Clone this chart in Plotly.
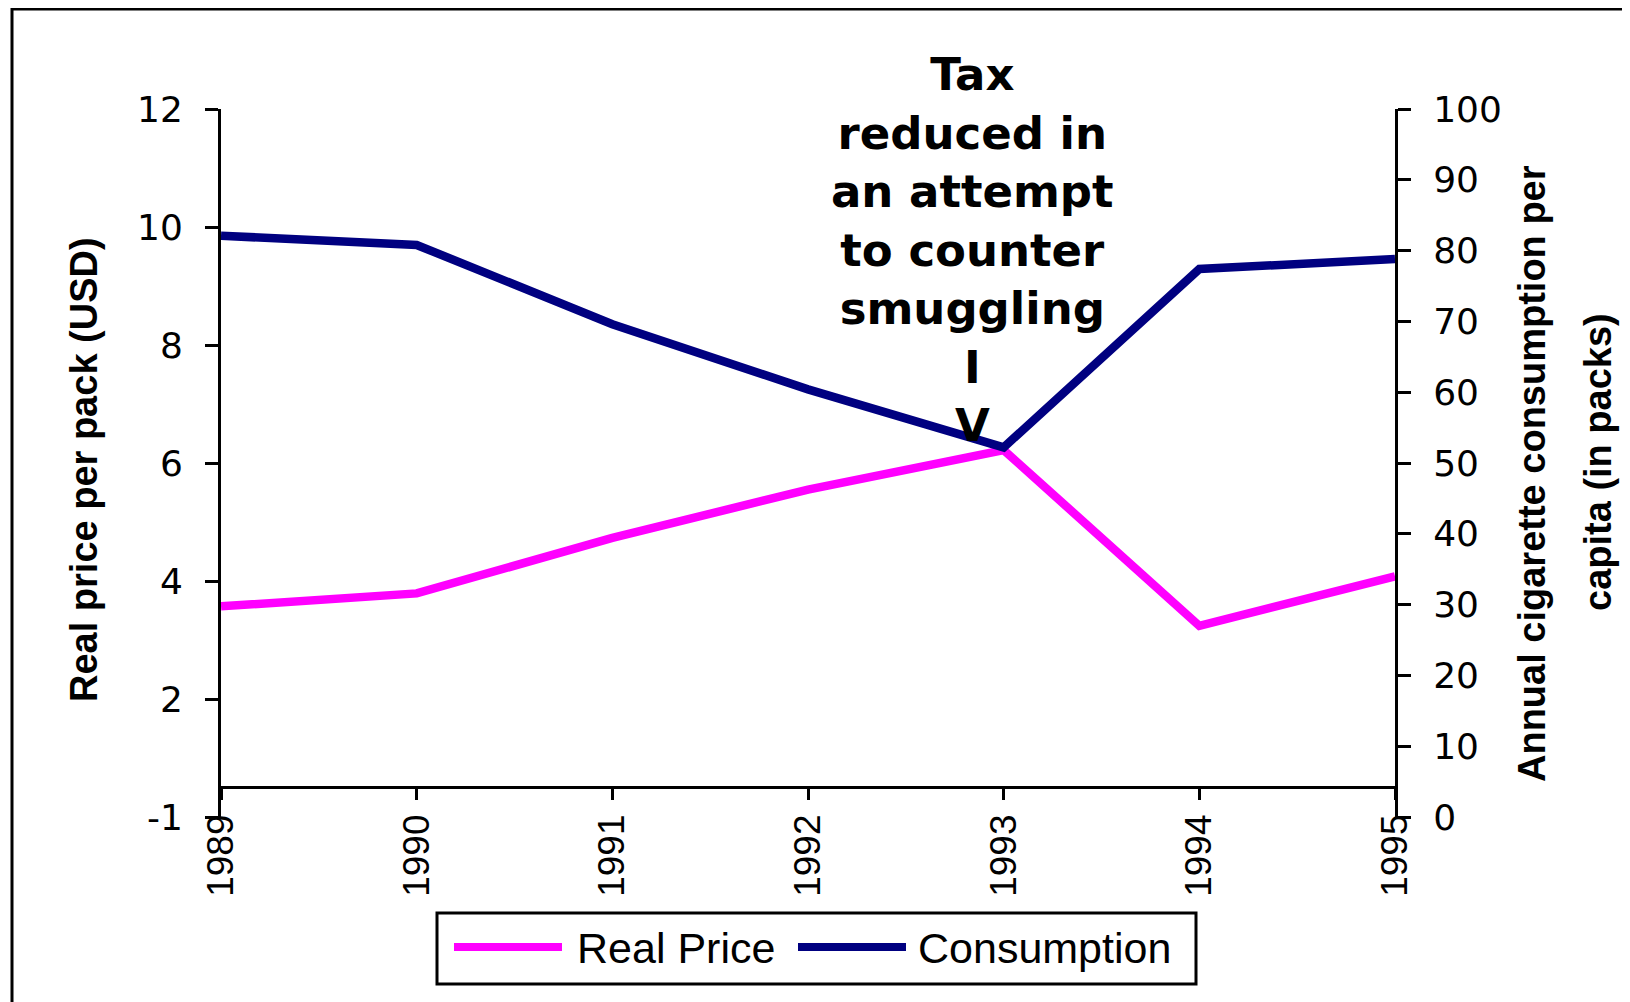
import plotly.graph_objects as go

years = [1989, 1990, 1991, 1992, 1993, 1994, 1995]
real_price = [3.57, 3.79, 4.73, 5.55, 6.22, 3.24, 4.08]
consumption = [82.1, 80.8, 69.6, 60.4, 52.2, 77.4, 78.8]

left_tickvals = [0, 2, 4, 6, 8, 10, 12]
left_ticktext = ["-1", "2", "4", "6", "8", "10", "12"]
right_tickvals = [0, 10, 20, 30, 40, 50, 60, 70, 80, 90, 100]
right_ticktext = [str(v) for v in right_tickvals]

MAGENTA = "#FF00FF"
NAVY = "#000080"

OFF = 8  # page body margin offset in the screenshot
W, H = 1630, 1002
L, R, T, B = 213, 243, 101, 193
PW, PH = W - L - R, H - T - B


def px(xs):
    return (xs - OFF - L) / PW


def py(ys):
    return (H - B - (ys - OFF)) / PH


fig = go.Figure()
fig.add_trace(go.Scatter(x=years, y=real_price, name="Real Price", mode="lines",
                         line=dict(color=MAGENTA, width=8.5), yaxis="y"))
fig.add_trace(go.Scatter(x=years, y=consumption, name="Consumption", mode="lines",
                         line=dict(color=NAVY, width=8.5), yaxis="y2"))

tick_font = dict(family="DejaVu Sans", size=36, color="black")

fig.update_layout(
    width=W, height=H, autosize=False,
    margin=dict(l=L, r=R, t=T, b=B),
    paper_bgcolor="white", plot_bgcolor="white",
    showlegend=False,
    xaxis=dict(range=[1989, 1995], tickmode="array", tickvals=years,
               ticktext=[str(y) for y in years], tickangle=-90,
               ticks="outside", ticklen=11, tickwidth=3, tickcolor="black",
               showline=True, linecolor="black", linewidth=3,
               showgrid=False, zeroline=False, anchor="free",
               position=(817 - 786.7) / PH,
               tickfont=dict(family="Liberation Sans Narrow, Liberation Sans", size=37, color="black"),
               ticklabelstandoff=0),
    yaxis=dict(range=[0, 12], tickmode="array", tickvals=left_tickvals, ticktext=left_ticktext,
               ticks="outside", ticklen=13, tickwidth=3, tickcolor="black",
               showline=True, linecolor="black", linewidth=3,
               showgrid=False, zeroline=False, tickfont=tick_font,
               ticklabelstandoff=15),
    yaxis2=dict(range=[0, 100], tickmode="array", tickvals=right_tickvals, ticktext=right_ticktext,
                overlaying="y", side="right", anchor="x",
                ticks="outside", ticklen=13, tickwidth=3, tickcolor="black",
                showline=True, linecolor="black", linewidth=3,
                showgrid=False, zeroline=False, tickfont=tick_font,
                ticklabelstandoff=15),
)

title_font = dict(family="Liberation Sans, Arial", size=38, color="black")
annotations = [
    dict(text="<b>Real price per pack (USD)</b>", xref="paper", yref="paper",
         x=px(84), y=py(470), xanchor="center", yanchor="middle", textangle=-90,
         showarrow=False, font=title_font),
    dict(text="<b>Annual cigarette consumption per</b>", xref="paper", yref="paper",
         x=px(1532), y=py(474), xanchor="center", yanchor="middle", textangle=-90,
         showarrow=False, font=title_font),
    dict(text="<b>capita (in packs)</b>", xref="paper", yref="paper",
         x=px(1598), y=py(462), xanchor="center", yanchor="middle", textangle=-90,
         showarrow=False, font=title_font),
    dict(text="<b>Tax<br>reduced in<br>an attempt<br>to counter<br>smuggling<br>I<br>V</b>",
         xref="paper", yref="paper", x=px(972), y=py(46), xanchor="center", yanchor="top",
         align="center", showarrow=False,
         font=dict(family="DejaVu Sans", size=45, color="black")),
    # legend texts
    dict(text="Real Price", xref="paper", yref="paper", x=px(575), y=py(948),
         xanchor="left", yanchor="middle", showarrow=False,
         font=dict(family="Liberation Sans, Arial", size=43, color="black")),
    dict(text="Consumption", xref="paper", yref="paper", x=px(916), y=py(948),
         xanchor="left", yanchor="middle", showarrow=False,
         font=dict(family="Liberation Sans, Arial", size=43, color="black")),
]
fig.update_layout(annotations=annotations)

shapes = [
    # outer frame
    dict(type="rect", xref="paper", yref="paper", x0=px(12), x1=px(1680), y0=py(1050), y1=py(9),
         line=dict(color="black", width=3), fillcolor="rgba(0,0,0,0)", layer="above"),
    # legend box
    dict(type="rect", xref="paper", yref="paper", x0=px(437), x1=px(1196), y0=py(984), y1=py(913),
         line=dict(color="black", width=3), fillcolor="white", layer="above"),
    dict(type="line", xref="paper", yref="paper", x0=px(454), x1=px(562), y0=py(947), y1=py(947),
         line=dict(color=MAGENTA, width=8), layer="above"),
    dict(type="line", xref="paper", yref="paper", x0=px(798), x1=px(906), y0=py(947), y1=py(947),
         line=dict(color=NAVY, width=8), layer="above"),
]
fig.update_layout(shapes=shapes)

fig.write_html("out.html")
